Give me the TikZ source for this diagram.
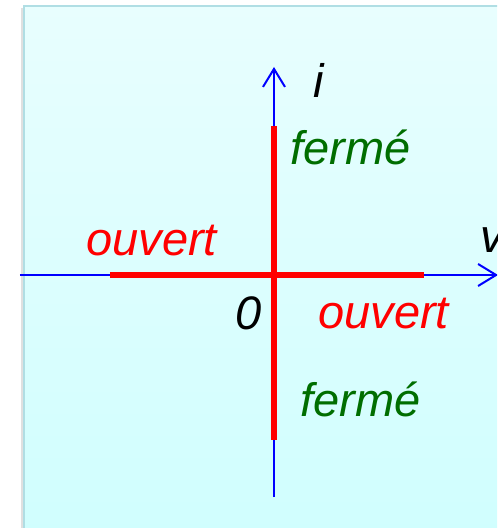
\documentclass[tikz,border=0pt]{standalone}
\usepackage{fontspec}
\setmainfont{Liberation Sans}
\usepackage{tikz}
\usetikzlibrary{arrows.meta,positioning,calc}
\definecolor{axisblue}{RGB}{0,0,255}
\definecolor{openred}{RGB}{255,0,0}
\definecolor{closedgreen}{RGB}{0,110,0}
\definecolor{boxtop}{RGB}{232,254,254}
\definecolor{boxbottom}{RGB}{208,254,254}
\definecolor{boxline}{RGB}{176,222,228}
\tikzstyle{axis} = [draw=axisblue, line width=1pt, -{Straight Barb[length=9pt,width=11pt,line width=1pt]}]
\tikzstyle{state} = [draw=openred, line width=3pt]
\tikzstyle{lbl} = [font=\fontsize{23.5}{27}\selectfont\itshape, inner sep=0pt, anchor=base west]

\begin{document}
\begin{tikzpicture}[x=0.5pt, y=0.5pt]
    \useasboundingbox (-274,-253) rectangle (223,275);
    \clip (-274,-253) rectangle (223,275);
    % background panel
    \fill[black!12] (-253,-260) rectangle (-249,267);
    \shade[top color=boxtop, bottom color=boxbottom, draw=boxline, line width=1pt] (-250,-260) rectangle (230,269);

    \coordinate (O) at (0,0);
    \coordinate (west) at (-254,0);
    \coordinate (east) at (224,0);
    \coordinate (south) at (0,-222);
    \coordinate (north) at (0,208);
    \coordinate (ol) at (-164,0);
    \coordinate (or) at (150,0);
    \coordinate (fu) at (0,149);
    \coordinate (fd) at (0,-165);

    \path [axis] (west) -- (east);
    \path [axis] (south) -- (north);
    \path [state] (ol) -- (or);
    \path [state] (fd) -- (fu);

    \node [lbl] (ilab) at (39,177) {i};
    \node [lbl] (vlab) at (206,22) {v};
    \node [lbl] (zero) at (-39,-55) {0};
    \node [lbl, text=closedgreen] (fermeup) at (16,110) {fermé};
    \node [lbl, text=closedgreen] (fermedown) at (26,-142) {fermé};
    \node [lbl, text=openred] (ouvleft) at (-188,19) {ouvert};
    \node [lbl, text=openred] (ouvright) at (44,-54) {ouvert};
\end{tikzpicture}
\end{document}
